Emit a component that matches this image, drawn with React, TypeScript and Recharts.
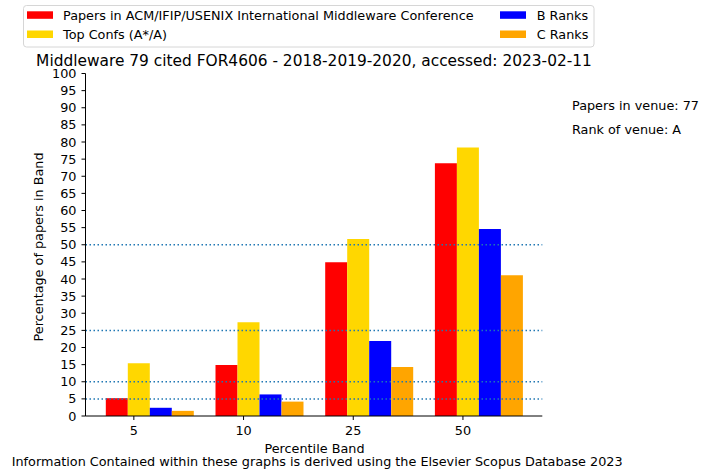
import { BarChart, Bar, XAxis, YAxis, ReferenceLine } from "recharts";

// values (percent of papers in each percentile band)
const bands = ["5", "10", "25", "50"];
const venuePapers = [5.2, 14.9, 44.9, 73.8];
const topConfs = [15.4, 27.4, 51.7, 78.4];
const bRanks = [2.4, 6.3, 21.9, 54.6];
const cRanks = [1.5, 4.2, 14.3, 41.1];
const yTicks = [0, 5, 10, 15, 20, 25, 30, 35, 40, 45, 50, 55, 60, 65, 70, 75, 80, 85, 90, 95, 100];
const guideLines = [5, 10, 25, 50];

const seriesNames = [
  "Papers in ACM/IFIP/USENIX International Middleware Conference",
  "Top Confs (A*/A)",
  "B Ranks",
  "C Ranks",
];
const seriesColors = ["#ff0000", "#ffd700", "#0000ff", "#ffa500"];

const data = bands.map((band, i) => ({
  band,
  venue: venuePapers[i],
  top: topConfs[i],
  b: bRanks[i],
  c: cRanks[i],
}));

const FONT = "'DejaVu Sans', sans-serif";
const FS = 12.8;

// matplotlib put the ticks a bit left of each group's centre
const BandTick = (props: any) => {
  const { x, y, payload } = props;
  const tx = x - 15.5;
  return (
    <g>
      <line x1={tx} x2={tx} y1={y} y2={y + 4} stroke="#000" />
      <text x={tx} y={y + 19} textAnchor="middle" fontSize={FS} fontFamily={FONT} fill="#000">
        {payload.value}
      </text>
    </g>
  );
};

const Overlay = () => (
  <svg
    width={713}
    height={470}
    style={{ position: "absolute", left: 0, top: 0, pointerEvents: "none" }}
    fontFamily={FONT}
  >
    {/* legend */}
    <rect x={23.5} y={5.5} width={570.5} height={41.5} rx={3} fill="#fff" fillOpacity={0.8} stroke="#d6d6d6" />
    <rect x={27} y={11.3} width={26} height={7.5} fill={seriesColors[0]} />
    <text x={63} y={20.2} fontSize={FS} fill="#000">{seriesNames[0]}</text>
    <rect x={27} y={30.5} width={26} height={7.5} fill={seriesColors[1]} />
    <text x={63} y={39.2} fontSize={FS} fill="#000">{seriesNames[1]}</text>
    <rect x={500} y={11.3} width={26} height={7.5} fill={seriesColors[2]} />
    <text x={536.7} y={20.2} fontSize={FS} fill="#000">{seriesNames[2]}</text>
    <rect x={500} y={30.5} width={26} height={7.5} fill={seriesColors[3]} />
    <text x={536.7} y={39.2} fontSize={FS} fill="#000">{seriesNames[3]}</text>

    <text x={314} y={66} textAnchor="middle" fontSize={15.4} fill="#000">
      Middleware 79 cited FOR4606 - 2018-2019-2020, accessed: 2023-02-11
    </text>

    <text x={572} y={109.5} fontSize={FS} fill="#000">Papers in venue: 77</text>
    <text x={572} y={133.8} fontSize={FS} fill="#000">Rank of venue: A</text>

    <text
      x={38}
      y={247}
      textAnchor="middle"
      dominantBaseline="central"
      transform="rotate(-90, 38, 247)"
      fontSize={FS}
      fill="#000"
    >
      Percentage of papers in Band
    </text>
    <text x={314.5} y={453.3} textAnchor="middle" fontSize={FS} fill="#000">Percentile Band</text>
    <text x={11.7} y={465.5} fontSize={FS} fill="#000">
      Information Contained within these graphs is derived using the Elsevier Scopus Database 2023
    </text>
  </svg>
);

export default function App() {
  return (
    <div style={{ position: "absolute", left: 0, top: 0, width: 713, height: 470, background: "#fff" }}>
      <BarChart
        width={713}
        height={470}
        data={data}
        margin={{ top: 73.5, right: 170.7, left: 25.5, bottom: 24 }}
        barCategoryGap={11.3}
        barGap={0}
      >
        <XAxis
          dataKey="band"
          padding={{ left: 9, right: 9 }}
          tickSize={0}
          tickMargin={0}
          tick={<BandTick />}
          axisLine={{ stroke: "#000" }}
          height={30}
        />
        <XAxis
          xAxisId="top"
          dataKey="band"
          orientation="top"
          tick={false}
          tickLine={false}
          axisLine={{ stroke: "#000" }}
          height={0}
        />
        <YAxis
          domain={[0, 100]}
          ticks={yTicks}
          interval={0}
          tickSize={4}
          tickMargin={5}
          tickLine={{ stroke: "#000" }}
          axisLine={{ stroke: "#000" }}
          tick={{ fill: "#000", fontSize: FS, fontFamily: FONT }}
          width={60}
        />
        <YAxis
          yAxisId="right"
          orientation="right"
          domain={[0, 100]}
          tick={false}
          tickLine={false}
          axisLine={{ stroke: "#000" }}
          width={0}
        />
        <Bar dataKey="venue" name={seriesNames[0]} fill={seriesColors[0]} isAnimationActive={false} />
        <Bar dataKey="top" name={seriesNames[1]} fill={seriesColors[1]} isAnimationActive={false} />
        <Bar dataKey="b" name={seriesNames[2]} fill={seriesColors[2]} isAnimationActive={false} />
        <Bar dataKey="c" name={seriesNames[3]} fill={seriesColors[3]} isAnimationActive={false} />
        {guideLines.map((v) => (
          <ReferenceLine key={v} y={v} stroke="#1f77b4" strokeWidth={1.5} strokeDasharray="1.5 2.5" />
        ))}
      </BarChart>
      <Overlay />
    </div>
  );
}
